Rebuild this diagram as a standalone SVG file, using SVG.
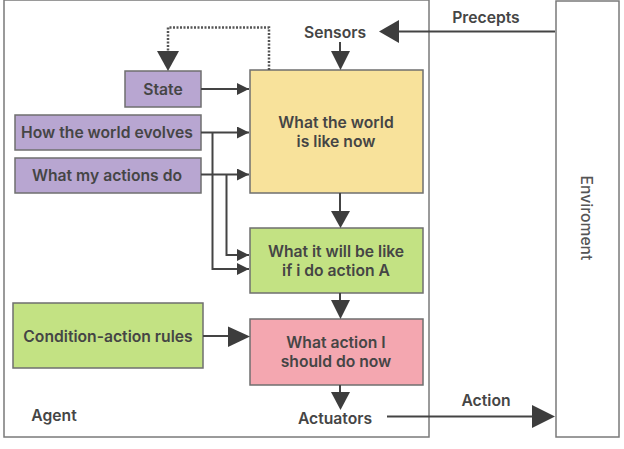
<svg xmlns="http://www.w3.org/2000/svg" width="624" height="449" viewBox="0 0 624 449">
<style>
text{font-family:Inter,"Liberation Sans",sans-serif;font-size:15.7px;font-weight:600;fill:#454545;text-anchor:middle;dominant-baseline:central}
.box{stroke:#6f6f6f;stroke-width:1.5}
.purple{fill:#b8a6d1}
.yellow{fill:#f8e29b}
.green{fill:#c3e283}
.pink{fill:#f4a7b0}
.frame{fill:#fff;stroke:#7a7a7a;stroke-width:1.5}
.ln{fill:none;stroke:#444;stroke-width:2}
.dash{fill:none;stroke:#555;stroke-width:2.5;stroke-dasharray:2 1.5}
.big{fill:#3d3d3d}
</style>
<defs>
<marker id="sm" viewBox="0 0 10 10" refX="10" refY="5" markerWidth="12" markerHeight="12" markerUnits="userSpaceOnUse" orient="auto">
<path d="M0,0 L10,5 L0,10 Z" fill="#3d3d3d"/>
</marker>
</defs>
<rect id="agent-frame" class="frame" x="4" y="0" width="425" height="437"/>
<g id="environment">
<rect class="frame" x="556" y="1" width="63" height="436"/>
<text transform="translate(586,218) rotate(90)" style="font-weight:500;fill:#555">Enviroment</text>
</g>
<g id="agent-label"><text x="54" y="415">Agent</text></g>
<g id="state"><rect class="box purple" x="125" y="71" width="76" height="36"/><text x="163" y="89">State</text></g>
<g id="how-world-evolves"><rect class="box purple" x="15" y="115" width="186" height="35"/><text x="107" y="132.5">How the world evolves</text></g>
<g id="what-actions-do"><rect class="box purple" x="15" y="158" width="186" height="35"/><text x="107" y="175">What my actions do</text></g>
<g id="world-now"><rect class="box yellow" x="250" y="70" width="173" height="123"/><text x="336" y="122">What the world</text><text x="336" y="141">is like now</text></g>
<g id="will-be-like"><rect class="box green" x="250" y="228" width="173" height="65"/><text x="336" y="251">What it will be like</text><text x="336" y="270">if i do action A</text></g>
<g id="condition-action"><rect class="box green" x="13" y="303" width="190" height="65"/><text x="108" y="336">Condition-action rules</text></g>
<g id="action-now"><rect class="box pink" x="250" y="319" width="173" height="66"/><text x="336" y="342">What action I</text><text x="336" y="361">should do now</text></g>
<g id="sensors"><text x="335" y="32">Sensors</text></g>
<g id="actuators"><text x="335" y="418">Actuators</text></g>
<g id="precepts-label"><text x="486" y="17">Precepts</text></g>
<g id="action-label"><text x="486" y="400">Action</text></g>
<g id="connectors">
<path class="dash" d="M269,70 V27.5 H168 V52"/>
<polygon class="big" points="157,51 179,51 168,71"/>
<path class="ln" d="M201,89 H249" marker-end="url(#sm)"/>
<path class="ln" d="M201,132.5 H249" marker-end="url(#sm)"/>
<path class="ln" d="M201,174.5 H249" marker-end="url(#sm)"/>
<path class="ln" d="M212.5,132.5 V269 H249" marker-end="url(#sm)"/>
<path class="ln" d="M226.5,174.5 V255 H249" marker-end="url(#sm)"/>
<path class="ln" d="M555,31.5 H395"/>
<polygon class="big" points="379,31.5 399,20 399,43"/>
<path class="ln" d="M340,42 V52"/>
<polygon class="big" points="331,51 350,51 340.5,70"/>
<path class="ln" d="M340,193 V213"/>
<polygon class="big" points="331,211 350,211 340.5,228"/>
<path class="ln" d="M340,293 V302"/>
<polygon class="big" points="331,300 350,300 340.5,319"/>
<path class="ln" d="M340,385 V393"/>
<polygon class="big" points="331,392 350,392 340.5,410"/>
<path class="ln" d="M203,336 H232"/>
<polygon class="big" points="228,326.5 250,336.5 228,347"/>
<path class="ln" d="M387,416.5 H535"/>
<polygon class="big" points="532,405 555,416.5 532,428"/>
</g>
</svg>
